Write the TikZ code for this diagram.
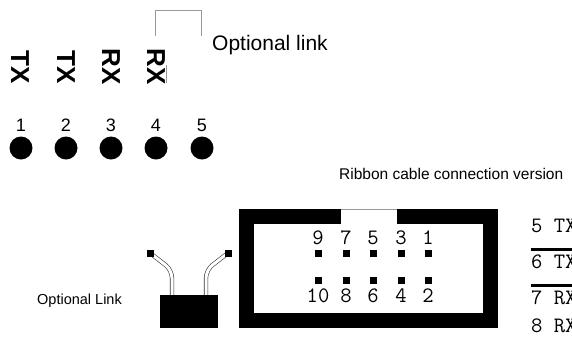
\documentclass[tikz,border=0pt]{standalone}
\usepackage{fontspec}
\setmainfont{Liberation Sans}
\begin{document}
\begin{tikzpicture}[x=1pt,y=-1pt,
  pin/.style={circle, fill=black, minimum size=23pt, inner sep=0pt},
  num/.style={font=\fontsize{18}{18}\selectfont, inner sep=0pt},
  sig/.style={font=\fontsize{26}{26}\selectfont\bfseries, rotate=-90, inner sep=0pt},
  cad/.style={font=\fontsize{22}{22}\selectfont\ttfamily, inner sep=0pt},
  sq/.style={fill=black, minimum size=7pt, inner sep=0pt},
  wire/.style={draw=black!80, double=white, double distance=3pt, line width=0.6pt, rounded corners=8pt},
  thinl/.style={draw=gray!80, line width=0.8pt}]
\useasboundingbox (0,0) rectangle (572,338);
% top signal labels
\node[sig] (s1) at (20,67) {TX};
\node[sig] (s2) at (66,67) {TX};
\node[sig] (s3) at (111,67) {RX};
\node[sig] (s4) at (156,67) {RX};
\coordinate (m1) at (166,65);
\coordinate (m2) at (166,83);
\draw[thinl] (m1) -- (m2);
% bracket
\coordinate (b1) at (155,36);
\coordinate (b2) at (155,10);
\coordinate (b3) at (201,10);
\coordinate (b4) at (201,36);
\draw[thinl] (b1) -- (b2) -- (b3) -- (b4);
\node[anchor=west, font=\fontsize{21}{21}\selectfont, inner sep=0pt] (opt) at (212,45) {Optional link};
% numbers and pins
\foreach \i/\x in {1/21,2/66,3/111,4/156,5/202}{
  \node[num] (n\i) at (\x,125) {\i};
  \node[pin] (p\i) at (\x,148) {};
}
\node[anchor=west, font=\fontsize{15.5}{15.5}\selectfont, inner sep=0pt] (rib) at (339,174) {Ribbon cable connection version};
% connector body
\fill[black] (239,209) rectangle (498,328);
\fill[white] (254,224) rectangle (483,313);
\fill[white] (341,209) rectangle (397,224);
\draw[thinl] (341,209.5) -- (397,209.5);
\foreach \t/\b/\x in {9/10/318,7/8/346,5/6/373,3/4/401,1/2/428}{
  \node[cad] (lt\t) at (\x,238) {\t};
  \node[sq] (pt\t) at (\x,253.5) {};
  \node[sq] (pb\b) at (\x,280.5) {};
  \node[cad] (lb\b) at (\x,296) {\b};
}
% right labels
\node[cad, anchor=west] (r5) at (531,226) {5 TX};
\node[cad, anchor=west] (r6) at (531,262) {6 TX};
\node[cad, anchor=west] (r7) at (531,298) {7 RX};
\node[cad, anchor=west] (r8) at (531,326) {8 RX};
\draw[line width=3pt] (r6.north west) ++(0,-5) -- ++(60,0);
\draw[line width=3pt] (r7.north west) ++(0,-5) -- ++(60,0);
% jumper
\coordinate (w1) at (172,296);
\coordinate (w2) at (172,270);
\coordinate (w3) at (206,296);
\coordinate (w4) at (206,270);
\node[sq] (jl) at (150,253) {};
\node[sq] (jr) at (228,253) {};
\draw[wire] (w1) -- (w2) -- (jl.center);
\draw[wire] (w3) -- (w4) -- (jr.center);
\node[sq] at (150,253) {};
\node[sq] at (228,253) {};
\node[fill=black, minimum width=58pt, minimum height=33pt, inner sep=0pt] (blk) at (189,311.5) {};
\node[anchor=west, font=\fontsize{14.5}{14.5}\selectfont, inner sep=0pt] (ol) at (37,301) {Optional Link};
\end{tikzpicture}
\end{document}
